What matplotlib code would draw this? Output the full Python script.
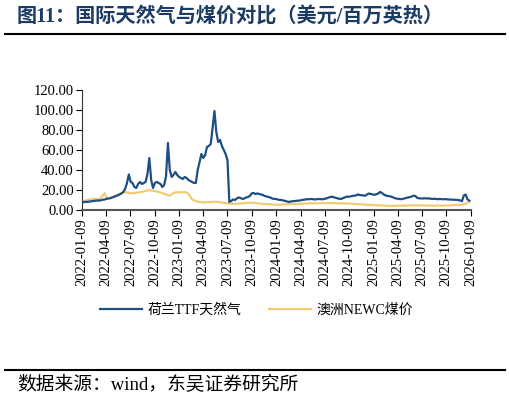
import matplotlib
matplotlib.use('Agg')
import matplotlib.pyplot as plt
import matplotlib.dates as mdates
import pandas as pd

plt.rcParams['font.family'] = ['Liberation Serif', 'Noto Sans CJK SC', 'DejaVu Sans']

# 周度数据，2022-01-09 起
fechas = pd.date_range('2022-01-09', periods=209, freq='7D')

ttf = [
    7.5, 7.8, 8.2, 8.0, 8.5, 8.8, 9.0, 9.2, 9.5, 9.3, 9.8, 10.2, 10.5,
    11.0, 11.5, 11.8, 12.5, 13.0, 14.0, 14.5, 15.5, 16.5, 18.0, 21.0, 27.0, 35.5,
    28.0, 27.0, 23.0, 22.0, 26.0, 28.0, 26.0, 27.0, 28.0, 36.0, 52.0, 30.0, 22.0,
    27.0, 28.0, 27.0, 26.0, 23.0, 25.0, 34.0, 67.0, 40.0, 33.0, 35.0, 38.0, 35.0,
    33.0, 32.0, 31.0, 33.0, 32.0, 30.0, 29.0, 28.0, 27.0, 27.0, 40.0, 48.0, 56.0,
    52.0, 55.0, 63.0, 64.0, 66.0, 82.0, 99.0, 78.0, 68.0, 70.0, 64.0, 60.0, 56.0,
    50.0, 8.0, 9.0, 10.5, 10.0, 11.5, 12.5, 12.0, 11.0, 11.5, 12.5, 13.0, 14.0,
    16.5, 17.0, 16.0, 16.5, 16.0, 15.5, 15.0, 14.0, 13.5, 13.0, 12.5, 11.5, 11.0,
    11.0, 10.5, 10.0, 10.0, 9.5, 9.0, 8.5, 8.0, 8.5, 8.7, 9.0, 9.2, 9.3,
    9.5, 10.0, 10.2, 10.5, 10.8, 10.7, 11.0, 10.8, 10.5, 10.7, 11.0, 10.8, 10.7,
    11.0, 11.5, 12.2, 12.8, 13.3, 12.8, 12.3, 11.8, 11.2, 11.0, 11.8, 12.5, 13.3,
    13.2, 13.5, 14.0, 14.3, 14.5, 15.5, 15.0, 14.8, 14.5, 14.2, 15.5, 16.5, 16.0,
    15.5, 15.2, 15.7, 16.5, 18.0, 17.0, 15.5, 14.5, 14.0, 13.8, 13.3, 12.5, 11.8,
    11.3, 11.0, 10.8, 11.0, 11.5, 12.0, 12.5, 12.8, 13.5, 14.2, 14.0, 12.0, 11.7,
    11.5, 11.5, 11.7, 11.5, 11.6, 11.3, 11.0, 11.2, 11.0, 10.8, 11.0, 10.8, 10.7,
    10.9, 10.6, 10.5, 10.4, 10.3, 10.2, 10.0, 10.0, 9.5, 8.8, 14.5, 15.5, 10.5,
    9.3,
]

newc = [
    8.3, 9.0, 9.5, 10.0, 10.5, 10.8, 11.0, 10.8, 11.0, 11.2, 12.0, 14.5, 16.8,
    12.5, 11.7, 11.8, 12.5, 13.5, 14.5, 15.2, 16.0, 16.8, 17.5, 17.8, 17.5, 17.0,
    16.7, 16.8, 17.0, 17.3, 17.5, 17.8, 18.0, 18.5, 19.0, 19.5, 19.8, 19.5, 19.2,
    19.0, 18.5, 18.0, 17.5, 16.8, 16.0, 15.5, 14.8, 14.3, 15.5, 16.8, 17.5, 17.7,
    17.8, 17.6, 17.7, 17.8, 17.5, 16.0, 13.5, 10.5, 9.5, 9.0, 8.3, 8.0, 7.8,
    7.6, 7.7, 7.8, 7.9, 8.0, 8.2, 8.3, 8.3, 8.0, 7.8, 7.3, 7.0, 6.7,
    6.5, 6.3, 6.2, 6.0, 6.0, 6.0, 6.2, 6.4, 6.6, 6.8, 7.0, 7.2, 7.3,
    7.3, 7.2, 7.0, 6.9, 6.3, 6.2, 6.0, 5.9, 5.8, 5.7, 5.6, 5.5,
    5.3, 5.2, 5.3, 5.5, 5.6, 5.7, 5.7, 5.8, 5.8, 5.9, 6.0, 6.0, 6.0,
    6.1, 6.2, 6.3, 6.4, 6.5, 6.5, 6.6, 6.6, 6.7, 6.7, 6.7, 6.8, 6.8,
    6.7, 6.7, 6.8, 6.8, 6.9, 6.9, 6.8, 6.8, 6.7, 6.7, 6.6, 6.6, 6.7,
    6.6, 6.5, 6.3, 6.1, 6.0, 5.9, 5.8, 5.7, 5.5, 5.4, 5.3, 5.2, 5.0,
    5.0, 4.9, 4.8, 4.7, 4.6, 4.5, 4.4, 4.3, 4.2, 4.1, 4.0, 4.0, 4.0,
    4.1, 4.2, 4.2, 4.3, 4.3, 4.4, 4.4, 4.5, 4.5, 4.6, 4.6, 4.7, 4.7,
    4.7, 4.6, 4.6, 4.5, 4.5, 4.4, 4.4, 4.3, 4.3, 4.3, 4.4, 4.4, 4.3,
    4.3, 4.3, 4.4, 4.5, 4.5, 4.6, 4.7, 4.8, 4.9, 5.0, 5.2, 5.6, 6.3,
    7.3, 8.3,
]

nombres = ['荷兰TTF天然气', '澳洲NEWC煤价']
colores = ['#1f4e84', '#f2cc72']
titulo = '图11：国际天然气与煤价对比（美元/百万英热）'
fuente = '数据来源：wind，东吴证券研究所'

fig = plt.figure(figsize=(5.10, 4.03), dpi=100)
ax = fig.add_axes([0.1614, 0.479, 0.7616, 0.2977])

ax.plot(fechas, newc, color=colores[1], linewidth=1.6, label=nombres[1], zorder=2)
ax.plot(fechas, ttf, color=colores[0], linewidth=1.6, label=nombres[0], zorder=3)

ax.set_ylim(0, 120)
ax.set_yticks(range(0, 121, 20))
ax.yaxis.set_major_formatter(matplotlib.ticker.FormatStrFormatter('%.2f'))
ax.set_xlim(pd.Timestamp('2022-01-09'), pd.Timestamp('2026-01-09'))
ticks_x = pd.date_range('2022-01-01', '2026-01-01', freq='3MS') + pd.Timedelta(days=8)
ax.set_xticks(ticks_x)
ax.xaxis.set_major_formatter(mdates.DateFormatter('%Y-%m-%d'))
for etiqueta in ax.get_xticklabels():
    etiqueta.set_rotation(90)
ax.tick_params(axis='both', labelsize=10.5, direction='out', length=4, width=0.8, pad=2)

for lado in ['top', 'right']:
    ax.spines[lado].set_visible(False)
ax.spines['left'].set_color('#333333')
ax.spines['bottom'].set_color('#555555')
ax.spines['bottom'].set_linewidth(1.5)

# Leyenda abajo, en orden TTF primero
h, l = ax.get_legend_handles_labels()
fig.legend(h[::-1], l[::-1], loc='center', bbox_to_anchor=(0.503, 0.231), ncol=2,
           frameon=False, fontsize=10, handlelength=3.0, columnspacing=2.0,
           handletextpad=0.4)

fig.text(0.033, 0.957, titulo, fontsize=14.5, fontweight='bold', color='#1c3b62',
         family=['Liberation Serif', 'Noto Sans CJK SC'], va='center')
fig.add_artist(plt.Line2D([0.01, 0.99], [0.915, 0.915], color='black', linewidth=1.5))
fig.add_artist(plt.Line2D([0.01, 0.99], [0.082, 0.082], color='black', linewidth=1.5))
fig.text(0.033, 0.044, fuente, fontsize=13.5, color='black', va='center')

fig.savefig('out.png', dpi=100)
